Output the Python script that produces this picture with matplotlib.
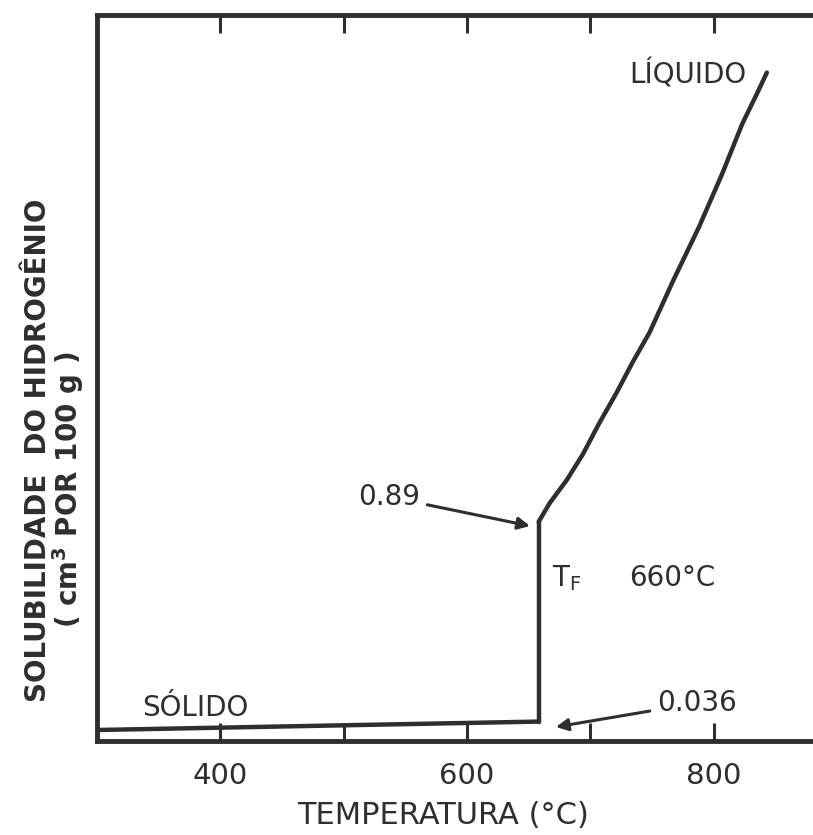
"""Solubilidade do hidrogênio no alumínio em função da temperatura."""
import matplotlib; matplotlib.use("Agg")
import matplotlib.pyplot as plt

plt.rcParams["font.family"] = "DejaVu Sans"
INK = "#2e2e2e"

# dados
solido_T = [300, 658]
solido_S = [0.0, 0.036]
fusao_T = [658, 658]
fusao_S = [0.036, 0.89]
liquido_T = [658, 667, 681, 694, 707, 721, 734, 748, 767, 788, 807, 823, 835, 843]
liquido_S = [0.89, 0.97, 1.07, 1.18, 1.31, 1.44, 1.57, 1.70, 1.92, 2.15, 2.38, 2.59, 2.72, 2.81]
ticks = [400, 500, 600, 700, 800]
tick_labels = ["400", "", "600", "", "800"]

W, H = 813, 835
fig = plt.figure(figsize=(W / 100, H / 100), dpi=100)
# eixos: esquerda 97 px, base 741 px, topo 15 px, segue além da borda direita
ax = fig.add_axes([97 / W, 1 - 741 / H, 1 - 97 / W + 0.01, (741 - 15) / H])
ax.set_xlim(300, 887)
ax.set_ylim(-0.047, 3.056)

for s in ("left", "top", "bottom"):
    ax.spines[s].set_linewidth(3.5)
    ax.spines[s].set_color(INK)
ax.spines["right"].set_visible(False)

ax.set_xticks(ticks)
ax.set_xticklabels(tick_labels)
ax.set_yticks([])
ax.tick_params(axis="x", direction="in", top=True, length=13, width=2.2,
               color=INK, labelsize=21, labelcolor=INK, pad=15)

lw = 3.2
ax.plot(solido_T, solido_S, color=INK, lw=lw, solid_capstyle="round")
ax.plot(fusao_T, fusao_S, color=INK, lw=lw, solid_capstyle="round")
ax.plot(liquido_T, liquido_S, color=INK, lw=lw, solid_capstyle="round",
        solid_joinstyle="round")

fs = 20
ax.annotate("0.89", xy=(651, 0.872), xytext=(537, 0.996), ha="center", va="center",
            fontsize=fs, color=INK,
            arrowprops=dict(arrowstyle="-|>", color=INK, lw=2.2, mutation_scale=18,
                            shrinkA=3, shrinkB=0))
ax.annotate("0.036", xy=(672, 0.013), xytext=(786, 0.115), ha="center", va="center",
            fontsize=fs, color=INK,
            arrowprops=dict(arrowstyle="-|>", color=INK, lw=2.2, mutation_scale=18,
                            shrinkA=3, shrinkB=0))
ax.text(681, 0.65, r"T$_\mathregular{F}$", ha="center", va="center", fontsize=fs, color=INK)
ax.text(766, 0.65, "660°C", ha="center", va="center", fontsize=fs, color=INK)
ax.text(779, 2.80, "LÍQUIDO", ha="center", va="center", fontsize=fs, color=INK)
ax.text(380, 0.094, "SÓLIDO", ha="center", va="center", fontsize=fs, color=INK)

fig.text(443 / W, 1 - 815 / H, "TEMPERATURA (°C)", ha="center", va="center",
         fontsize=22, color=INK)
fig.text(38 / W, 1 - 450 / H, "SOLUBILIDADE  DO HIDROGÊNIO", rotation=90,
         ha="center", va="center", fontsize=20, color=INK, weight="bold")
fig.text(68 / W, 1 - 490 / H, "( cm$^\\mathregular{3}$ POR 100 g )", rotation=90,
         ha="center", va="center", fontsize=20, color=INK, weight="bold")

fig.savefig("out.png", dpi=100, facecolor="white")
